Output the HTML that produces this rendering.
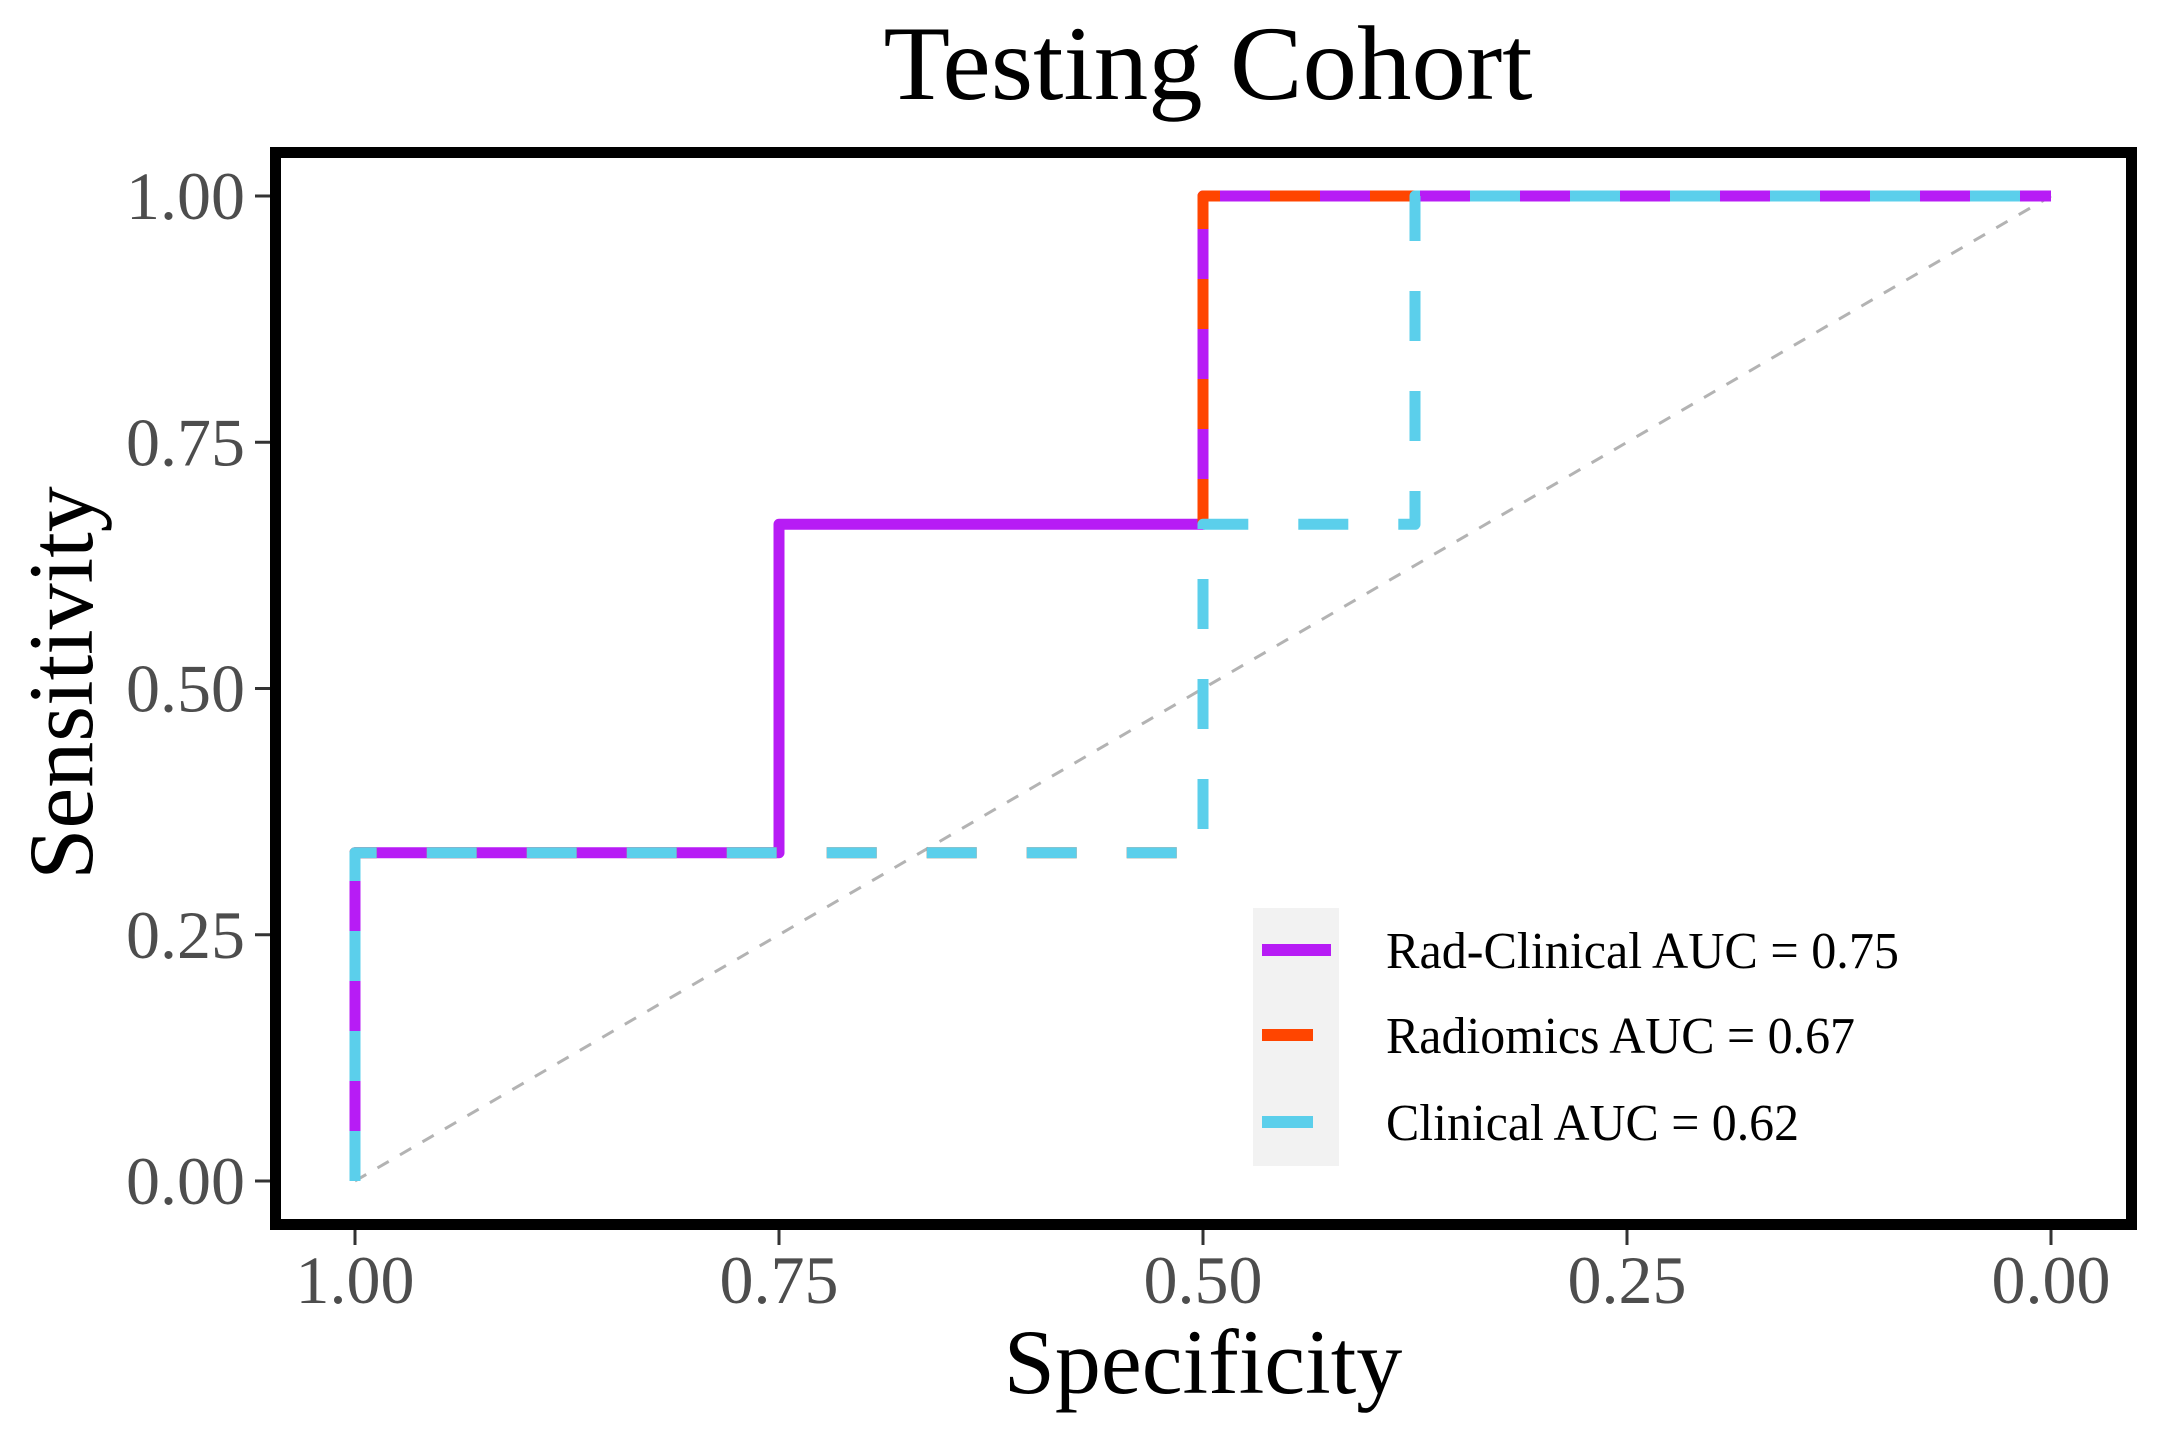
<!DOCTYPE html>
<html><head><meta charset="utf-8"><style>html,body{margin:0;padding:0;background:#fff}svg{display:block}</style></head>
<body>
<svg id="chart" width="2165" height="1435" viewBox="0 0 2165 1435" xmlns="http://www.w3.org/2000/svg" font-family="'Liberation Serif', serif">
<rect x="0" y="0" width="2165" height="1435" fill="#fff"/>
<text x="1208" y="99" font-size="106" text-anchor="middle" textLength="649" lengthAdjust="spacingAndGlyphs">Testing Cohort</text>
<g id="plot"></g>
<rect x="275.5" y="152.5" width="1856" height="1072" fill="none" stroke="#000" stroke-width="11"/>
<g id="axes"></g>
<text x="1203" y="1393" font-size="92" text-anchor="middle">Specificity</text>
<text transform="translate(92,683) rotate(-90)" font-size="92" text-anchor="middle">Sensitivity</text>
<g id="legend"></g>
</svg>
<script>
const xTicks = [1.00, 0.75, 0.50, 0.25, 0.00];
const xTickLabels = ["1.00", "0.75", "0.50", "0.25", "0.00"];
const yTicks = [0.00, 0.25, 0.50, 0.75, 1.00];
const yTickLabels = ["0.00", "0.25", "0.50", "0.75", "1.00"];
const seriesNames = ["Rad-Clinical AUC = 0.75", "Radiomics AUC = 0.67", "Clinical AUC = 0.62"];
const radClinicalSpec = [1, 1, 0.75, 0.75, 0.5, 0.5, 0];
const radClinicalSens = [0, 1/3, 1/3, 2/3, 2/3, 1, 1];
const radiomicsSpec = [1, 1, 0.5, 0.5, 0];
const radiomicsSens = [0, 1/3, 1/3, 1, 1];
const clinicalSpec = [1, 1, 0.5, 0.5, 0.375, 0.375, 0];
const clinicalSens = [0, 1/3, 1/3, 2/3, 2/3, 1, 1];

const NS = "http://www.w3.org/2000/svg";
function xs(v){ return 2051 + (355 - 2051) * v; }
function ys(v){ return 1181 + (196 - 1181) * v; }
function mk(tag, attrs, parent){ const e = document.createElementNS(NS, tag); for (const k in attrs) e.setAttribute(k, attrs[k]); parent.appendChild(e); return e; }

const plot = document.getElementById('plot');
const diag = mk('line', {x1: xs(1), y1: ys(0), x2: xs(0), y2: ys(1), stroke: '#b3b3b3', 'stroke-width': 3, 'stroke-dasharray': '13 13'}, plot);



function pathD(sx, sy){ return sx.map((v, i) => (i ? 'L' : 'M') + xs(v).toFixed(1) + ',' + ys(sy[i]).toFixed(1)).join(' '); }
const series = [
  {sx: radClinicalSpec, sy: radClinicalSens, color: '#b71cf5', dash: null, name: 'rad-clinical-curve'},
  {sx: radiomicsSpec, sy: radiomicsSens, color: '#ff4500', dash: '50 50', name: 'radiomics-curve'},
  {sx: clinicalSpec, sy: clinicalSens, color: '#5bcfeb', dash: '50 50', name: 'clinical-curve'}
];
series.forEach(s => {
  const a = {d: pathD(s.sx, s.sy), fill: 'none', stroke: s.color, 'stroke-width': 11, 'stroke-linejoin': 'round'};
  if (s.dash) a['stroke-dasharray'] = s.dash;
  const p = mk('path', a, plot);
  
  
});

const axes = document.getElementById('axes');
xTicks.forEach((v, i) => {
  const t = mk('line', {x1: xs(v), y1: 1230, x2: xs(v), y2: 1245, stroke: '#333', 'stroke-width': 3}, axes);
  
  
  const l = mk('text', {x: xs(v), y: 1303, 'font-size': 68, fill: '#4d4d4d', 'text-anchor': 'middle'}, axes);
  l.textContent = xTickLabels[i];
  
  
});
yTicks.forEach((v, i) => {
  const t = mk('line', {x1: 255, y1: ys(v), x2: 270, y2: ys(v), stroke: '#333', 'stroke-width': 3}, axes);
  
  
  const l = mk('text', {x: 245, y: ys(v) + 23, 'font-size': 68, fill: '#4d4d4d', 'text-anchor': 'end'}, axes);
  l.textContent = yTickLabels[i];
  
  
});

const legend = document.getElementById('legend');
const lbg = mk('rect', {x: 1253, y: 908, width: 86, height: 258, fill: '#f2f2f2'}, legend);


const keyY = [950, 1035, 1122];
const textW = [513, 469, 413];
series.forEach((s, i) => {
  const k = mk('line', {x1: 1262, y1: keyY[i], x2: s.dash ? 1313 : 1331, y2: keyY[i], stroke: s.color, 'stroke-width': 12}, legend);
  
  
  const t = mk('text', {x: 1386, y: keyY[i] + 18, 'font-size': 52, textLength: textW[i], lengthAdjust: 'spacingAndGlyphs'}, legend);
  t.textContent = seriesNames[i];
  
  
});
</script>
</body></html>
